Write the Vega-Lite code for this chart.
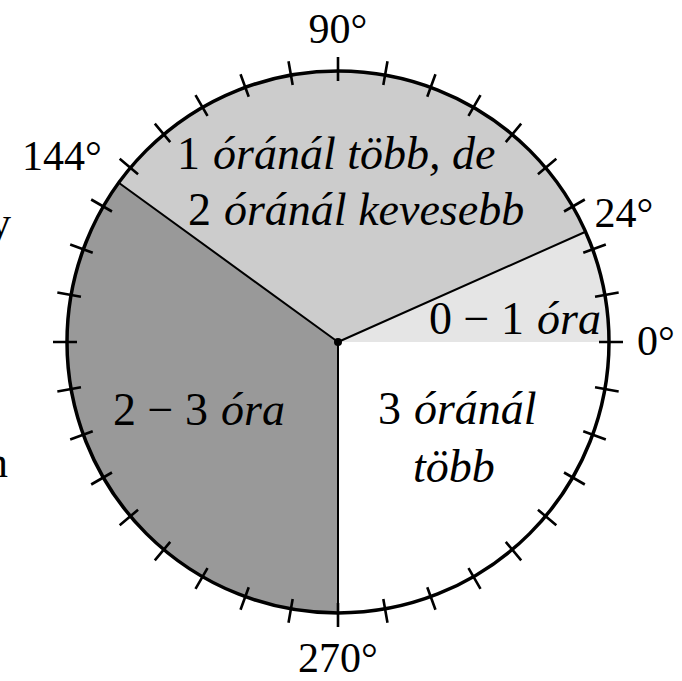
{
  "$schema": "https://vega.github.io/schema/vega-lite/v6.json",
  "width": 676,
  "height": 678,
  "autosize": {"type": "none"},
  "padding": {"left": 0, "top": 3, "right": 6, "bottom": 0},
  "background": "white",
  "config": {"view": {"stroke": null}},
  "datasets": {
    "sectors": [
      {"s": "0 – 1 óra", "deg": 0, "deg2": 24},
      {"s": "1–2 óra", "deg": 24, "deg2": 144},
      {"s": "2 – 3 óra", "deg": 144, "deg2": 270},
      {"s": "3 óránál több", "deg": 270, "deg2": 360}
    ],
    "edges": [{"deg": 24}, {"deg": 144}, {"deg": 270}],
    "ticks": [
      {"deg": 0}, {"deg": 10}, {"deg": 20}, {"deg": 30}, {"deg": 40}, {"deg": 50},
      {"deg": 60}, {"deg": 70}, {"deg": 80}, {"deg": 90}, {"deg": 100}, {"deg": 110},
      {"deg": 120}, {"deg": 130}, {"deg": 140}, {"deg": 150}, {"deg": 160}, {"deg": 170},
      {"deg": 180}, {"deg": 190}, {"deg": 200}, {"deg": 210}, {"deg": 220}, {"deg": 230},
      {"deg": 240}, {"deg": 250}, {"deg": 260}, {"deg": 270}, {"deg": 280}, {"deg": 290},
      {"deg": 300}, {"deg": 310}, {"deg": 320}, {"deg": 330}, {"deg": 340}, {"deg": 350}
    ],
    "angleLabels": [
      {"t": "90°", "deg": 90, "r": 1.151},
      {"t": "144°", "deg": 146.2, "r": 1.226},
      {"t": "24°", "deg": 24.1, "r": 1.156},
      {"t": "0°", "deg": 0, "r": 1.173},
      {"t": "270°", "deg": 270, "r": 1.168}
    ],
    "sectorLabels": [
      {"num": "1", "word": "óránál több, de", "deg": 123.76, "r": 0.83},
      {"num": "2", "word": "óránál kevesebb", "deg": 131.03, "r": 0.641},
      {"num": "0 − 1", "word": "óra", "deg": 6.31, "r": 0.739},
      {"num": "2 − 3", "word": "óra", "deg": 210.53, "r": 0.501},
      {"num": "3", "word": "óránál", "deg": 318.18, "r": 0.376},
      {"num": "", "word": "több", "deg": 300.76, "r": 0.541}
    ],
    "cut": [
      {"t": "y", "deg": 162.2, "r": 1.267},
      {"t": "n", "deg": 202.25, "r": 1.316}
    ]
  },
  "layer": [
    {
      "data": {"name": "sectors"},
      "mark": {"type": "arc", "radius": 271},
      "encoding": {
        "theta": {"field": "deg", "type": "quantitative", "stack": null,
          "scale": {"domain": [0, 360], "range": [1.5707963268, -4.7123889804]}},
        "theta2": {"field": "deg2"},
        "color": {"field": "s", "type": "nominal", "legend": null,
          "scale": {"domain": ["0 – 1 óra", "1–2 óra", "2 – 3 óra", "3 óránál több"],
            "range": ["#e5e5e5", "#cccccc", "#999999", "#ffffff"]}}
      }
    },
    {
      "data": {"name": "edges"},
      "mark": {"type": "arc", "radius": 271, "radius2": 0, "filled": false, "stroke": "#000", "strokeWidth": 2, "strokeJoin": "bevel"},
      "encoding": {
        "theta": {"field": "deg", "type": "quantitative", "stack": null},
        "theta2": {"field": "deg"}
      }
    },
    {
      "data": {"name": "ticks"},
      "mark": {"type": "arc", "radius": 285, "radius2": 261, "filled": false, "stroke": "#000", "strokeWidth": 2.6, "strokeJoin": "bevel"},
      "encoding": {
        "theta": {"field": "deg", "type": "quantitative", "stack": null},
        "theta2": {"field": "deg"}
      }
    },
    {
      "data": {"values": [{}]},
      "mark": {"type": "arc", "radius": 271, "filled": false, "stroke": "#000", "strokeWidth": 3.5},
      "encoding": {
        "theta": {"datum": 0, "type": "quantitative"},
        "theta2": {"datum": 360}
      }
    },
    {
      "data": {"values": [{}]},
      "mark": {"type": "arc", "radius": 4, "fill": "#000"},
      "encoding": {
        "theta": {"datum": 0, "type": "quantitative"},
        "theta2": {"datum": 360}
      }
    },
    {
      "data": {"name": "angleLabels"},
      "mark": {"type": "text", "font": "Liberation Serif", "fontSize": 42, "color": "#000", "align": "center", "baseline": "middle"},
      "encoding": {
        "theta": {"field": "deg", "type": "quantitative", "stack": null},
        "radius": {"field": "r", "type": "quantitative", "scale": {"type": "linear", "domain": [0, 1], "range": [0, 271], "zero": true}},
        "text": {"field": "t"}
      }
    },
    {
      "data": {"name": "sectorLabels"},
      "mark": {"type": "text", "font": "Liberation Serif", "fontSize": 46, "color": "#000", "align": "right", "baseline": "middle", "dx": -13},
      "encoding": {
        "theta": {"field": "deg", "type": "quantitative", "stack": null},
        "radius": {"field": "r", "type": "quantitative"},
        "text": {"field": "num"}
      }
    },
    {
      "data": {"name": "sectorLabels"},
      "mark": {"type": "text", "font": "Liberation Serif", "fontStyle": "italic", "fontSize": 46, "color": "#000", "align": "left", "baseline": "middle"},
      "encoding": {
        "theta": {"field": "deg", "type": "quantitative", "stack": null},
        "radius": {"field": "r", "type": "quantitative"},
        "text": {"field": "word"}
      }
    },
    {
      "data": {"name": "cut"},
      "mark": {"type": "text", "font": "Liberation Serif", "fontSize": 44, "color": "#000", "align": "right", "baseline": "alphabetic"},
      "encoding": {
        "theta": {"field": "deg", "type": "quantitative", "stack": null},
        "radius": {"field": "r", "type": "quantitative"},
        "text": {"field": "t"}
      }
    }
  ]
}
